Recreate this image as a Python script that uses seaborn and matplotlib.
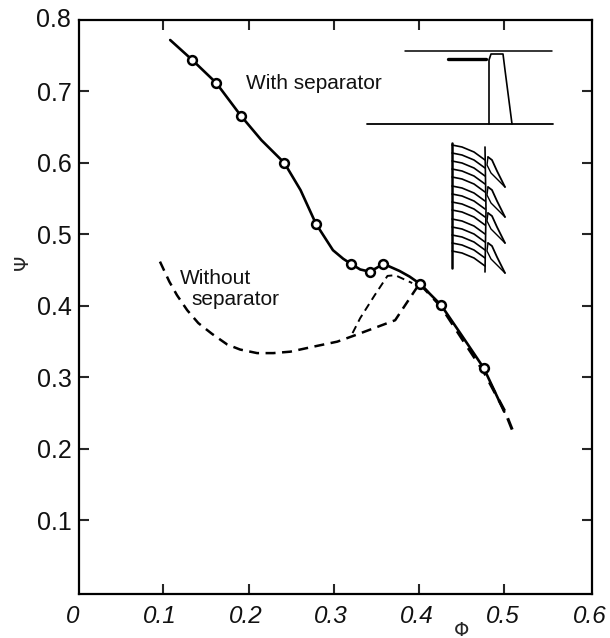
import numpy as np
import pandas as pd
import matplotlib
matplotlib.use("Agg")
import matplotlib.pyplot as plt
import seaborn as sns

sns.set_theme(style="white")
plt.rcParams["font.family"] = ["Liberation Sans", "DejaVu Sans"]

# with separator
solid_phi = [0.108, 0.134, 0.162, 0.191, 0.215, 0.242, 0.261, 0.279, 0.299, 0.311, 0.320, 0.331, 0.342, 0.350,
             0.358, 0.377, 0.389, 0.401, 0.426, 0.450, 0.476, 0.500]
solid_psi = [0.772, 0.744, 0.712, 0.666, 0.632, 0.600, 0.562, 0.515, 0.478, 0.466, 0.459, 0.451, 0.448, 0.453,
             0.459, 0.449, 0.441, 0.431, 0.401, 0.359, 0.313, 0.252]
circle_phi = [0.134, 0.162, 0.191, 0.242, 0.279, 0.320, 0.342, 0.358, 0.401, 0.426, 0.476]
circle_psi = [0.744, 0.712, 0.666, 0.600, 0.515, 0.459, 0.448, 0.459, 0.431, 0.401, 0.313]

# without separator
dash_phi = [0.096, 0.107, 0.116, 0.128, 0.141, 0.157, 0.175, 0.190, 0.210, 0.229, 0.249, 0.276, 0.304, 0.325,
            0.372, 0.401]
dash_psi = [0.462, 0.434, 0.415, 0.394, 0.376, 0.361, 0.346, 0.339, 0.334, 0.334, 0.336, 0.343, 0.350, 0.359,
            0.380, 0.432]
branch_phi = [0.322, 0.331, 0.348, 0.363, 0.372, 0.392]
branch_psi = [0.362, 0.383, 0.415, 0.442, 0.443, 0.432]
tail_phi = [0.401, 0.426, 0.450, 0.476, 0.501, 0.510]
tail_psi = [0.431, 0.399, 0.355, 0.308, 0.252, 0.225]

x_ticks = [0, 0.1, 0.2, 0.3, 0.4, 0.5, 0.6]
x_labels = ["0", "0.1", "0.2", "0.3", "0.4", "0.5", "0.6"]
x_nudge = [-5, -4, -3, -3, -2, -1, 0]
y_ticks = [0.1, 0.2, 0.3, 0.4, 0.5, 0.6, 0.7, 0.8]
y_labels = ["0.1", "0.2", "0.3", "0.4", "0.5", "0.6", "0.7", "0.8"]

# inset sketch, in pixels of the page
casing_x = [405, 552]
casing_y = [51, 51]
hub_x = [367, 553]
hub_y = [124, 124]
sep_x = [448, 486]
sep_y = [59, 59]
blade_x = [489, 489, 491, 503, 505, 512]
blade_y = [124, 60, 54, 54, 70, 124]
vane_tops = [145, 153, 161, 169, 177, 186, 194, 202, 210, 219, 227, 235, 243, 251]
guide_tops = [157, 187, 213, 243]

fig = plt.figure(figsize=(6.1, 6.38), dpi=100)
ax = fig.add_axes([79 / 610, 1 - 594 / 638, (592 - 79) / 610, (594 - 20) / 638])

sns.lineplot(x=solid_phi, y=solid_psi, color="black", lw=1.9, sort=False, estimator=None, ax=ax)
for px, py, lw in [(dash_phi, dash_psi, 1.8), (branch_phi, branch_psi, 1.4), (tail_phi, tail_psi, 2.2)]:
    sns.lineplot(x=px, y=py, color="black", lw=lw, sort=False, estimator=None, ax=ax, linestyle=(0, (4, 2.6)))
sns.scatterplot(x=circle_phi, y=circle_psi, s=40, color="white", edgecolor="black", linewidth=1.8, zorder=5, ax=ax)

ax.set_xlim(0.001, 0.603)
ax.set_ylim(-0.003, 0.8)
ax.set_xticks(x_ticks[1:-1])
ax.set_xticklabels([])
ax.set_yticks(y_ticks[:-1])
ax.set_yticklabels(y_labels[:-1], fontsize=18, color="#111111")
ax.tick_params(axis="y", direction="in", length=7, width=1.5, left=True, right=True, pad=5)
ax.tick_params(axis="x", direction="in", length=7, width=1.5, bottom=True, top=True)
for s in ax.spines.values():
    s.set_linewidth(1.6)
    s.set_color("black")

for xt, lab, nudge in zip(x_ticks, x_labels, x_nudge):
    ax.annotate(lab, (xt, 0), xycoords=("data", "axes fraction"), xytext=(nudge * 0.72, -16.5),
                textcoords="offset points", ha="center", va="center", fontsize=17.5, style="italic",
                color="#111111", annotation_clip=False)
ax.annotate(y_labels[-1], (0, 0.8), xycoords="data", xytext=(-5, 0), textcoords="offset points",
            ha="right", va="center", fontsize=18, color="#111111", annotation_clip=False)

ax.text(0.197, 0.711, "With separator", fontsize=15, color="#111111", va="center")
ax.text(0.119, 0.439, "Without", fontsize=15, color="#111111", va="center")
ax.text(0.133, 0.409, "separator", fontsize=15, color="#111111", va="center")
fig.text(22 / 610, 1 - 262 / 638, "Ψ", fontsize=14, ha="center", va="center", rotation=90, family="DejaVu Sans")
fig.text(462 / 610, 1 - 631 / 638, "Φ", fontsize=14, ha="center", va="center", family="DejaVu Sans")

# inset
ov = fig.add_axes([0, 0, 1, 1], facecolor="none")
ov.set_xlim(0, 610)
ov.set_ylim(638, 0)
ov.axis("off")
ov.plot(casing_x, casing_y, color="black", lw=1.1)
ov.plot(hub_x, hub_y, color="black", lw=1.3)
ov.plot(sep_x, sep_y, color="black", lw=2.4)
ov.plot(blade_x, blade_y, color="black", lw=1.2)
ov.plot([452, 452], [143, 268], color="black", lw=1.8)
ov.plot([485, 486, 485], [147, 210, 272], color="black", lw=1.2)
for top in vane_tops:
    ov.plot([452, 462, 474, 485], [top, top + 2, top + 7, top + 15], color="black", lw=1.2)
for top in guide_tops:
    ov.plot([488, 492, 497, 505], [top, top + 3, top + 14, top + 30], color="black", lw=1.3)
    ov.plot([488, 487, 491, 505], [top, top + 8, top + 16, top + 30], color="black", lw=1)

plt.savefig("out.png", dpi=100)
